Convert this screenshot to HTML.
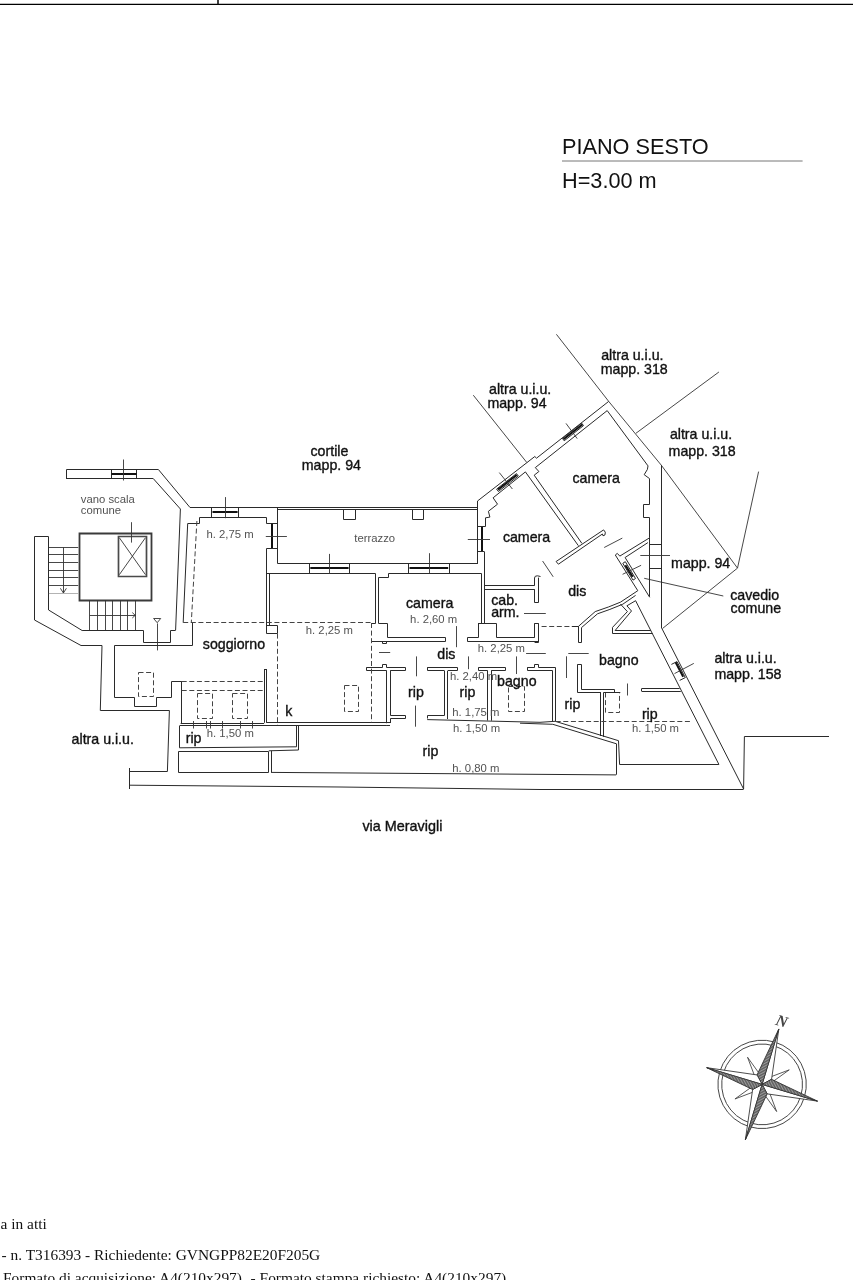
<!DOCTYPE html>
<html>
<head>
<meta charset="utf-8">
<title>Planimetria - Piano Sesto</title>
<style>
html,body{margin:0;padding:0;background:#fff;}
body{width:853px;height:1280px;overflow:hidden;position:relative;font-family:"Liberation Sans",sans-serif;}
svg{position:absolute;left:0;top:0;display:block;will-change:transform;}
.w{fill:none;stroke:#2a2a2a;stroke-width:1;stroke-linecap:butt;stroke-linejoin:miter;}
.t{fill:none;stroke:#333;stroke-width:0.9;}
.k{fill:none;stroke:#111;stroke-width:2;}
.d{fill:none;stroke:#444;stroke-width:1;stroke-dasharray:5 2.6;}
text{font-family:"Liberation Sans",sans-serif;}
.b{font-size:14.2px;fill:#111;stroke:#111;stroke-width:0.35;}
.h{font-size:11.3px;fill:#525252;}
.f{font-family:"Liberation Serif",serif;font-size:15.4px;fill:#111;}
</style>
</head>
<body>
<svg width="853" height="1280" viewBox="0 0 853 1280">
<rect x="0" y="0" width="853" height="1280" fill="#fff"/>

<!-- top border -->
<g id="topline">
<path d="M0,4.45 H853" stroke="#000" stroke-width="1.15" fill="none"/>
<path d="M218,0 V4.5" stroke="#111" stroke-width="1.6" fill="none"/>
</g>

<!-- title -->
<g id="title">
<text x="562" y="153.8" font-size="21.7" fill="#111">PIANO SESTO</text>
<path d="M562,161 H802.6" stroke="#666" stroke-width="0.9" fill="none"/>
<text x="562" y="188.3" font-size="21.7" fill="#111">H=3.00 m</text>
</g>

<!-- ===== stairwell ===== -->
<g id="stairwell">
<!-- top wall -->
<path class="w" d="M66.5,478.1 L66.5,469.5 L158.4,469.5 L190,507.5 L477.9,507.5"/>
<path class="w" d="M66,478.5 L153.2,478.5 L180.4,509 L175.6,630.2"/>
<!-- window top -->
<path class="w" d="M111.5,469.7 L111.5,478.1 M136.5,469.7 L136.5,478.1"/>
<path class="k" d="M111.5,474 L136.6,474"/>
<path class="t" d="M123.5,459.5 L123.5,480.5"/>
<!-- left wall -->
<path class="w" d="M48.5,610 L48.5,536.5 L34.5,536.5 L34.5,620 L81,645.5 L102,645.5 L100.3,710.5 L169.4,710.5 L167.4,771.5 L129.5,771.5"/>
<path class="w" d="M48.6,610 L82.1,630.5 L143.5,630.5 L143.5,642.5 L170.5,642.5 L170.5,630.5 L175.6,630.5"/>
<path class="w" d="M129.5,768 L129.5,789"/>
<!-- elevator / stair core -->
<path d="M79.5,533.5 L151.5,533.5 L151.5,600.5 L79.5,600.5 Z" fill="none" stroke="#3a3a3a" stroke-width="1.8"/>
<path d="M118.5,536.5 L146.5,536.5 L146.5,576.5 L118.5,576.5 Z" fill="none" stroke="#4a4a4a" stroke-width="1.7"/>
<path class="t" d="M119.4,537.8 L145.4,574.6 M145.4,537.8 L119.4,574.6"/>
<path class="t" d="M131.5,522.2 L131.5,542.6"/>
<!-- left stairs -->
<path class="t" d="M48.9,547.5 L78.2,547.5 M48.9,554.5 L78.2,554.5 M48.9,562.5 L78.2,562.5 M48.9,570.5 L78.2,570.5 M48.9,577.5 L78.2,577.5 M48.9,585.5 L78.2,585.5"/>
<path d="M48.9,593.5 L78.2,593.5" fill="none" stroke="#aaa" stroke-width="0.9"/>
<path class="t" d="M63.5,547.3 L63.5,593 M60.4,588.3 L63.4,593 L66.4,588.3"/>
<!-- bottom stairs -->
<path class="t" d="M89.5,600 L89.5,630.2 M97.5,600 L97.5,630.2 M105.5,600 L105.5,630.2 M112.5,600 L112.5,630.2 M120.5,600 L120.5,630.2 M127.5,600 L127.5,630.2 M135.5,600 L135.5,630.2 M89.9,615.5 L135.7,615.5"/>
<path class="t" d="M132.3,612.6 L135.2,615.3 L132.3,618"/>
<!-- door marker -->
<path class="t" d="M153.6,618.5 L160.7,618.5 L157.2,622.7 Z M157.5,623.4 L157.5,650.4"/>
<!-- lower-left corridor -->
<path class="w" d="M192.5,622.6 L192.5,645.5 L114.5,645.5 L114.5,697.5 L134.5,697.5 L134.5,706.5 L156.5,706.5 L156.5,697.5 L171.5,697.5 L171.5,681.5 L181.7,681.5"/>

</g>
<!-- ===== soggiorno + terrace ===== -->
<g id="soggiorno">
<!-- inner top wall line -->
<path class="w" d="M183.2,622.6 L187.7,523.5 L199.5,523.5 L199.5,517.5 L266.5,517.5 L266.5,523.5 L277.1,523.5"/>
<!-- W1 -->
<path class="w" d="M211.5,507.6 L211.5,517.4 M238.5,507.6 L238.5,517.4"/>
<path class="k" d="M212.5,512 L237.6,512"/>
<path class="t" d="M225.5,497.1 L225.5,518.2"/>
<!-- terrace outline -->
<path class="w" d="M277.5,507.6 L277.5,563.5 L477.9,563.5" stroke="#5a5a5a"/>
<path class="w" d="M277.1,509.5 L477.9,509.5" stroke-width="0.8"/>
<!-- W2 vertical -->
<path class="k" d="M272,523.8 L272,548"/>
<path class="t" d="M265.8,536.5 L286.9,536.5"/>
<path class="w" d="M277.1,548.5 L266.5,548.5 L266.5,573.5 L375.5,573.5 L375.5,623.5 L371.7,623.5"/>
<path class="w" d="M269.5,573 L269.5,625.4"/>
<path class="w" d="M266.5,573 L266.5,633.5 L277.5,633.5 L277.5,625.5 L266.9,625.5"/>
<!-- terrace small squares -->
<path class="w" d="M343.5,509 L343.5,519.5 L355.5,519.5 L355.5,509 M412.5,509 L412.5,519.5 L423.5,519.5 L423.5,509" stroke="#777"/>
<!-- W3, W4 -->
<path class="w" d="M309.5,563.7 L309.5,573 M349.5,563.7 L349.5,573 M408.5,563.7 L408.5,573 M449.5,563.7 L449.5,573"/>
<path class="k" d="M310.3,568 L348.6,568 M409.5,568 L448.2,568"/>
<path class="t" d="M329.5,553.9 L329.5,573.8 M429.5,553.2 L429.5,573.8"/>
<!-- dashed -->
<path class="d" d="M196.9,521 L191.3,622.6"/>
<path class="d" d="M183.2,622.5 L371.7,622.5"/>
<path class="d" d="M277.5,633.6 L277.5,725.7"/>
</g>
<!-- ===== lower-left rip / k ===== -->
<g id="lowerleft">
<path class="w" d="M181.5,681.2 L181.5,723.4"/>
<path class="d" d="M181.7,681.5 L264.1,681.5 M181.7,690.5 L264.1,690.5"/>
<path class="w" d="M264.5,669 L264.5,722.8 M266.5,669 L266.5,722.8 M264.1,669.5 L266.4,669.5"/>
<!-- double horizontal -->
<path class="w" d="M180.6,723.5 L264.1,723.5 M266.4,722.5 L390,722.5"/>
<path class="w" d="M179.7,725.5 L386.9,725.5"/>
<path class="t" d="M193.5,721 L193.5,728.5 M206.5,721 L206.5,728.5 M210.5,721 L210.5,728.5 M222.5,721 L222.5,728.5 M240.5,721 L240.5,728.5 M252.5,721 L252.5,728.5"/>
<!-- dashed rects -->
<rect class="d" x="138.5" y="672.5" width="15" height="24"/>
<rect class="d" x="197.5" y="693.5" width="15" height="25"/>
<rect class="d" x="232.5" y="693.5" width="15" height="25"/>
<rect class="d" x="344.5" y="685.5" width="14" height="26"/>
<!-- rip box -->
<path class="w" d="M179.5,725.7 L179.5,747.8 L296.5,746.8 L296.5,725.7"/>
<path class="w" d="M298.5,725.7 L298.5,750 L268.8,750.8"/>
<!-- second row boxes -->
<path class="w" d="M178.5,751.5 L268.5,751.5 L268.5,772.5 L178.5,772.5 Z"/>
<path class="w" d="M271.5,772.4 L271.5,750.8"/>
</g>
<!-- ===== camera (middle) + cab.arm + dis + rip rooms ===== -->
<g id="middle">
<!-- camera outline -->
<path class="w" d="M378.5,623 L378.5,577.5 L388.5,577.5 L388.5,573.5 L481.5,573.5 L481.5,623"/>
<path class="w" d="M378.3,623.5 L387.5,623.5 L387.5,637.5 L445.5,637.5 L445.5,641.5 L371.5,641.5"/>
<path class="w" d="M382.5,641.6 L382.5,643.5 L386.5,643.5 L386.5,641.6"/>
<!-- right part -->
<path class="w" d="M484.5,551.5 L484.5,623"/>
<path class="w" d="M478,623.5 L496.5,623.5 L496.5,637.5 L534.6,637.5"/>
<path class="w" d="M478.5,623 L478.5,637.5 L467.5,637.5 L467.5,641.5 L538.1,641.5"/>
<!-- W5 vertical window on wall between terrace and camera NE -->
<path class="k" d="M482,526.9 L482,551.5"/>
<path class="t" d="M467.8,539.5 L490,539.5"/>
<path class="w" d="M477.5,502.3 L477.5,563.7" stroke="#5a5a5a"/>
<path class="w" d="M477.9,551.5 L484.2,551.5"/>
<!-- cab.arm top wall -->
<path class="w" d="M484.2,585.5 L534.6,585.5 M484.2,589.5 L534.6,589.5"/>
<path class="w" d="M534.5,585.6 L534.5,578 Q534.6,575.6 537.5,575.8 L540.5,576.5 M538.5,577.6 L538.5,602.5 L534.5,602.5 L534.5,589.3"/>
<path class="w" d="M534.5,637.4 L534.5,623.5 L538.5,623.5 L538.5,642.5 L534.6,642.5"/>
<path class="t" d="M524,613.5 L545.8,613.5"/>
<!-- door lines -->
<path class="t" d="M456.5,626.1 L456.5,647.2"/>
<path class="t" d="M379,652.5 L390.2,652.5 M526.1,653.5 L545.8,653.5 M568.3,653.5 L588.7,653.5"/>
<path class="t" d="M416.5,656.4 L416.5,676.3 M468.5,656.4 L468.5,669.2 M516.5,656.4 L516.5,674 M566.5,656.3 L566.5,678 M415.5,705.6 L415.5,726.7"/>
<!-- horizontal wall row y=667.6/670.7 -->
<path class="w" d="M366.3,667.5 L382.5,667.5 L382.5,664.5 L386.5,664.5 L386.5,667.5 L405.5,667.5 L405.5,670.5 L390.2,670.5 M386.7,670.5 L366.5,670.5 L366.5,667.6"/>
<path class="w" d="M386.5,670.7 L386.5,723.2 M390.5,670.7 L390.5,715.5 L405.5,715.5 L405.5,718.5 L390.5,718.5 L390.5,723"/>
<path class="w" d="M427.2,667.5 L457.5,667.5 L457.5,670.5 L447.9,670.5 M444.4,670.5 L427.5,670.5 L427.5,667.6"/>
<path class="w" d="M444.5,670.7 L444.5,715.5 L427.5,715.5 L427.5,718.5 M447.5,670.7 L447.5,719"/>
<path class="w" d="M478.3,667.5 L505.5,667.5 L505.5,670.5 L491.2,670.5 M487.7,670.5 L478.5,670.5 L478.5,667.6"/>
<path class="w" d="M487.5,670.7 L487.5,720.5 M491.5,670.7 L491.5,720.7"/>
<path class="w" d="M527.2,667.5 L534.5,667.5 L534.5,664.5 L538.5,664.5 L538.5,667.5 L555.5,667.5 L555.5,721.3 M527.5,667.6 L527.5,670.5 L552.5,670.5 L552.5,721.2"/>
<!-- dashed -->
<path class="d" d="M371.5,623 L371.5,722.5"/>
<rect class="d" x="508.5" y="686.5" width="16" height="25"/>
<path class="d" d="M541.6,626.5 L578.6,626.5"/>
<!-- sloping line under rip rooms -->
<path class="w" d="M427.2,719.6 L540,722.3 L555.2,721.3 L618.5,740.7 L619.6,764.5 L718.9,764.5"/>
<path class="w" d="M386.9,725.5 L390,725.5 M520,723.2 L552.8,724.3 L616.5,743.8 L616.5,774.7"/>
</g>
<!-- ===== NE cameras ===== -->
<g id="ne">
<!-- boundary lines -->
<path class="t" d="M556.4,334.3 L608.7,401.4 L661.3,465.2 L737.5,568.1"/>
<path class="t" d="M473.3,395.2 L526.8,462.5"/>
<path class="t" d="M718.9,372 L635.9,433.3"/>
<path class="t" d="M758.6,471.6 L737.5,568.1 L662.5,628.5"/>
<path class="t" d="M644.2,578.3 L723.3,596"/>
<!-- NW wall outer -->
<path class="w" d="M477.5,527 L477.5,501 L534.8,456.5 L536.5,458.2 L608.7,401.4"/>
<!-- NW wall inner, lower camera, with steps -->
<path class="w" d="M525.4,471.9 L493.1,497.8 L497.5,504.2 L488.4,511.3 L489.9,517.1 L485.5,517.8 L485.5,526.5 L477.7,526.5"/>
<!-- upper camera inner -->
<path class="w" d="M534.2,475.2 L538.9,471.5 L535.3,467.6 L607.2,410.6 L648,465.9 L647.4,469.4 L644.2,474.7 L649.5,478.6 L649.5,504.5 L643.5,504.5 L643.5,517.5 L649.5,517.5 L649.5,537.8"/>
<!-- partition -->
<path class="w" d="M525.4,471.9 L578.4,545.7 M534.2,475.2 L581.9,543.4"/>
<!-- cross wall -->
<path class="w" d="M556.1,561.5 L603.6,529.9 L605.3,532.2 L605,534.9 L603,535.8 L602.4,534 L558.4,564.2 Z"/>
<!-- door lines -->
<path class="t" d="M604.2,547.5 L622.3,538.1 M542.6,561 L553.2,576.8"/>
<!-- NW windows -->
<path class="w" d="M496.6,489.1 L516.5,473.6 L518.3,476 L498.4,491.5 Z" stroke-width="0.8"/>
<path class="k" d="M498,489.6 L516.8,475" stroke-width="1.2" stroke="#333"/>
<path class="t" d="M499.3,472.6 L512.4,489"/>
<path class="w" d="M562.4,438.4 L581.7,423.2 L583.5,425.6 L564.2,440.8 Z" stroke-width="0.8"/>
<path class="k" d="M563.5,439.3 L582.4,424.5" stroke-width="1.2" stroke="#333"/>
<path class="t" d="M566,423.4 L577.2,438.6"/>
<!-- right vertical (cavedio side) -->
<path class="w" d="M661.5,465.2 L661.5,628.3"/>
<path class="w" d="M649.6,544.5 L661.8,544.5 M649.6,568.5 L661.8,568.5 M649.5,537.8 L649.5,596.7"/>
<path class="t" d="M640.3,555.5 L670,555.5"/>
</g>
<!-- ===== cavedio / dis NE corner / bagno / SE diagonal wall ===== -->
<g id="se">
<!-- dis NE wall (diag) -->
<path class="w" d="M649.6,537.8 L619.8,556.1 L617.3,553.4 L615.3,555 L637.8,590.7"/>
<path class="w" d="M647.9,542.6 L625.1,557.5 L649.7,597.3"/>
<!-- window in that wall -->
<path class="w" d="M622.8,563.3 L625.3,561.7 L635.5,578.5 L633,580.1 Z" stroke-width="0.8"/>
<path class="k" d="M625.4,565.2 L632.7,576.9" stroke-width="1.2"/>
<path class="t" d="M622.6,574.3 L641.1,565.3"/>
<!-- curved wall dis/bagno -->
<path class="w" d="M637.8,590.7 L620.4,602.2 L608.7,606.9 L595.2,611.6 L578.5,626.3 L578.5,642.5 L581.5,642.5 L581.5,627.6 L597.5,613.8 L609.9,609.4 L622.8,604.2 L635.6,595.4"/>
<path class="w" d="M571.8,626.5 L578.4,626.5"/>
<!-- triangle -->
<path class="w" d="M620.4,604 L627.4,611.6 L612.5,627.4 L612.5,633.5 L652.6,633.5"/>
<path class="w" d="M635.6,600.7 L626.9,605.8 L631.5,611 L615.1,630.5 L650.9,630.5"/>
<!-- SE diagonal wall -->
<path class="w" d="M635.6,600.7 L718.9,764.4"/>
<path class="w" d="M661.8,628.3 L743.6,789"/>
<!-- window on SE wall -->
<path class="w" d="M671.4,664.4 L677,661.6 L685.3,677.6 L679.7,680.4" stroke-width="0.8"/>
<path class="k" d="M675.6,662.2 L683.2,676.8" stroke-width="1.5"/>
<path class="t" d="M674.5,673.6 L693.8,663.4"/>
<!-- step on right -->
<path class="w" d="M743.6,789 L744.4,736.5 L829,736.5"/>
<!-- long bottom line -->
<path class="w" d="M129.5,785.2 L340,787 L540,789.5 L743.6,789.5"/>
<path class="w" d="M271.1,772.4 L616.1,774.9"/>
<!-- bagno walls -->
<path class="w" d="M577.4,664.5 L581.5,664.5 L581.5,689.5 L614.5,689.5 L614.5,692.5 L603.7,692.5 M600.9,692.5 L577.5,692.5 L577.5,664.5"/>
<path class="w" d="M600.5,692.5 L600.5,736 M603.5,692.5 L603.5,736.8"/>
<path class="w" d="M641.5,688.5 L679.6,688.5 M641.5,691.5 L680.8,691.5 M641.5,688.7 L641.5,691"/>
<path class="t" d="M627.5,683.5 L627.5,695.5"/>
<path class="w" d="M534.5,623.5 L534.5,637.4 M538.5,623.5 L538.5,641.4"/>
<path class="w" d="M578.5,626.6 L578.5,641.6"/>
<path class="d" d="M605.5,692.5 L605.5,712.5 L619.5,712.5 L619.5,692.5" stroke="#666"/>
<path class="w" d="M603.7,692.5 L620.3,692.5"/>
<path class="d" d="M555.7,721.5 L692.3,721.5"/>
</g>


<g id="labels">
<g class="b">
<text x="601.2" y="359.8">altra u.i.u.</text>
<text x="600.7" y="374">mapp. 318</text>
<text x="489" y="394">altra u.i.u.</text>
<text x="487.4" y="407.8">mapp. 94</text>
<text x="669.9" y="438.7">altra u.i.u.</text>
<text x="668.6" y="455.6">mapp. 318</text>
<text x="310.5" y="455.8">cortile</text>
<text x="301.8" y="470.3">mapp. 94</text>
<text x="572.5" y="483.2">camera</text>
<text x="502.9" y="542.3">camera</text>
<text x="406" y="607.7">camera</text>
<text x="671.1" y="568.2">mapp. 94</text>
<text x="730.2" y="600.2">cavedio</text>
<text x="730.6" y="613.3">comune</text>
<text x="491.2" y="604.9">cab.</text>
<text x="491.2" y="617.1">arm.</text>
<text x="568.2" y="595.9">dis</text>
<text x="437.3" y="658.6">dis</text>
<text x="202.8" y="649.3">soggiorno</text>
<text x="599.1" y="664.5">bagno</text>
<text x="497.1" y="685.9">bagno</text>
<text x="714.4" y="663.4">altra u.i.u.</text>
<text x="714.4" y="678.6">mapp. 158</text>
<text x="408" y="696.9">rip</text>
<text x="459.6" y="696.9">rip</text>
<text x="564.5" y="709.1">rip</text>
<text x="641.9" y="718.8">rip</text>
<text x="285.3" y="715.9">k</text>
<text x="185.7" y="742.5">rip</text>
<text x="71.6" y="743.5">altra u.i.u.</text>
<text x="422.5" y="756">rip</text>
<text x="362.4" y="831" textLength="80" lengthAdjust="spacingAndGlyphs">via Meravigli</text>
</g>
<g class="h" transform="translate(-0.2,0.35)">
<text x="81" y="502.8">vano scala</text>
<text x="81" y="513.7">comune</text>
<text x="206.7" y="537.7">h. 2,75 m</text>
<text x="354.5" y="541.4">terrazzo</text>
<text x="410.3" y="622.3">h. 2,60 m</text>
<text x="306" y="633.6">h. 2,25 m</text>
<text x="478" y="651.2">h. 2,25 m</text>
<text x="450.2" y="679.8">h. 2,40 m</text>
<text x="452.5" y="715.7">h. 1,75 m</text>
<text x="453.2" y="732.1">h. 1,50 m</text>
<text x="632.1" y="731.4">h. 1,50 m</text>
<text x="206.9" y="736.5">h. 1,50 m</text>
<text x="452.5" y="771.2">h. 0,80 m</text>
</g>
</g>


<g id="compass" transform="translate(762.1,1084.4) rotate(16.8)">
<circle r="44.2" fill="none" stroke="#444" stroke-width="0.9"/>
<circle r="40.4" fill="none" stroke="#444" stroke-width="0.9"/>
<!-- minor points -->
<g fill="#fff" stroke="#444" stroke-width="0.8" stroke-linejoin="miter">
<path d="M0,0 L-2.8,-9.5 L0,-30.8 L2.8,-9.5 Z" transform="rotate(45)"/>
<path d="M0,0 L-2.8,-9.5 L0,-30.8 L2.8,-9.5 Z" transform="rotate(135)"/>
<path d="M0,0 L-2.8,-9.5 L0,-30.8 L2.8,-9.5 Z" transform="rotate(225)"/>
<path d="M0,0 L-2.8,-9.5 L0,-30.8 L2.8,-9.5 Z" transform="rotate(315)"/>
</g>
<!-- main points -->
<g stroke="#333" stroke-width="0.8" stroke-linejoin="miter">
<g><path d="M0,0 L7.6,-7.6 L0,-57.9 Z" fill="#fff"/><path d="M0,0 L-7.6,-7.6 L0,-57.9 Z" fill="#3c3c3c"/><path d="M-0.7,-1.2H-0.4M-2.2,-2.7H-0.4M-3.7,-4.2H-0.4M-5.2,-5.7H-0.4M-6.7,-7.2H-0.4M-6.9,-8.7H-0.4M-6.7,-10.2H-0.4M-6.5,-11.7H-0.4M-6.3,-13.2H-0.4M-6.0,-14.7H-0.4M-5.8,-16.2H-0.4M-5.6,-17.7H-0.4M-5.3,-19.2H-0.4M-5.1,-20.7H-0.4M-4.9,-22.2H-0.4M-4.7,-23.7H-0.4M-4.4,-25.2H-0.4M-4.2,-26.7H-0.4M-4.0,-28.2H-0.4M-3.8,-29.7H-0.4M-3.5,-31.2H-0.4M-3.3,-32.7H-0.4M-3.1,-34.2H-0.4M-2.9,-35.7H-0.4M-2.6,-37.2H-0.4M-2.4,-38.7H-0.4M-2.2,-40.2H-0.4M-1.9,-41.7H-0.4M-1.7,-43.2H-0.4M-1.5,-44.7H-0.4M-1.3,-46.2H-0.4M-1.0,-47.7H-0.4M-0.8,-49.2H-0.4" stroke="#fff" stroke-width="0.45" fill="none"/></g>
<g transform="rotate(90)"><path d="M0,0 L7.6,-7.6 L0,-57.9 Z" fill="#fff"/><path d="M0,0 L-7.6,-7.6 L0,-57.9 Z" fill="#3c3c3c"/><path d="M-0.7,-1.2H-0.4M-2.2,-2.7H-0.4M-3.7,-4.2H-0.4M-5.2,-5.7H-0.4M-6.7,-7.2H-0.4M-6.9,-8.7H-0.4M-6.7,-10.2H-0.4M-6.5,-11.7H-0.4M-6.3,-13.2H-0.4M-6.0,-14.7H-0.4M-5.8,-16.2H-0.4M-5.6,-17.7H-0.4M-5.3,-19.2H-0.4M-5.1,-20.7H-0.4M-4.9,-22.2H-0.4M-4.7,-23.7H-0.4M-4.4,-25.2H-0.4M-4.2,-26.7H-0.4M-4.0,-28.2H-0.4M-3.8,-29.7H-0.4M-3.5,-31.2H-0.4M-3.3,-32.7H-0.4M-3.1,-34.2H-0.4M-2.9,-35.7H-0.4M-2.6,-37.2H-0.4M-2.4,-38.7H-0.4M-2.2,-40.2H-0.4M-1.9,-41.7H-0.4M-1.7,-43.2H-0.4M-1.5,-44.7H-0.4M-1.3,-46.2H-0.4M-1.0,-47.7H-0.4M-0.8,-49.2H-0.4" stroke="#fff" stroke-width="0.45" fill="none"/></g>
<g transform="rotate(180)"><path d="M0,0 L7.6,-7.6 L0,-57.9 Z" fill="#fff"/><path d="M0,0 L-7.6,-7.6 L0,-57.9 Z" fill="#3c3c3c"/><path d="M-0.7,-1.2H-0.4M-2.2,-2.7H-0.4M-3.7,-4.2H-0.4M-5.2,-5.7H-0.4M-6.7,-7.2H-0.4M-6.9,-8.7H-0.4M-6.7,-10.2H-0.4M-6.5,-11.7H-0.4M-6.3,-13.2H-0.4M-6.0,-14.7H-0.4M-5.8,-16.2H-0.4M-5.6,-17.7H-0.4M-5.3,-19.2H-0.4M-5.1,-20.7H-0.4M-4.9,-22.2H-0.4M-4.7,-23.7H-0.4M-4.4,-25.2H-0.4M-4.2,-26.7H-0.4M-4.0,-28.2H-0.4M-3.8,-29.7H-0.4M-3.5,-31.2H-0.4M-3.3,-32.7H-0.4M-3.1,-34.2H-0.4M-2.9,-35.7H-0.4M-2.6,-37.2H-0.4M-2.4,-38.7H-0.4M-2.2,-40.2H-0.4M-1.9,-41.7H-0.4M-1.7,-43.2H-0.4M-1.5,-44.7H-0.4M-1.3,-46.2H-0.4M-1.0,-47.7H-0.4M-0.8,-49.2H-0.4" stroke="#fff" stroke-width="0.45" fill="none"/></g>
<g transform="rotate(270)"><path d="M0,0 L7.6,-7.6 L0,-57.9 Z" fill="#fff"/><path d="M0,0 L-7.6,-7.6 L0,-57.9 Z" fill="#3c3c3c"/><path d="M-0.7,-1.2H-0.4M-2.2,-2.7H-0.4M-3.7,-4.2H-0.4M-5.2,-5.7H-0.4M-6.7,-7.2H-0.4M-6.9,-8.7H-0.4M-6.7,-10.2H-0.4M-6.5,-11.7H-0.4M-6.3,-13.2H-0.4M-6.0,-14.7H-0.4M-5.8,-16.2H-0.4M-5.6,-17.7H-0.4M-5.3,-19.2H-0.4M-5.1,-20.7H-0.4M-4.9,-22.2H-0.4M-4.7,-23.7H-0.4M-4.4,-25.2H-0.4M-4.2,-26.7H-0.4M-4.0,-28.2H-0.4M-3.8,-29.7H-0.4M-3.5,-31.2H-0.4M-3.3,-32.7H-0.4M-3.1,-34.2H-0.4M-2.9,-35.7H-0.4M-2.6,-37.2H-0.4M-2.4,-38.7H-0.4M-2.2,-40.2H-0.4M-1.9,-41.7H-0.4M-1.7,-43.2H-0.4M-1.5,-44.7H-0.4M-1.3,-46.2H-0.4M-1.0,-47.7H-0.4M-0.8,-49.2H-0.4" stroke="#fff" stroke-width="0.45" fill="none"/></g>
</g>
<text x="0.5" y="-61" text-anchor="middle" font-style="italic" font-weight="bold" font-size="16" fill="#444" style="font-family:'Liberation Serif',serif">N</text>
</g>


<!-- footer -->
<g id="footer">
<text class="f" x="0.6" y="1228.7">a in atti</text>
<text class="f" x="1.6" y="1260.4">- n. T316393 - Richiedente: GVNGPP82E20F205G</text>
<text class="f" x="3" y="1283">Formato di acquisizione: A4(210x297) <tspan dx="4.8">- Formato stampa richiesto: A4(210x297)</tspan></text>
</g>
</svg>
</body>
</html>
